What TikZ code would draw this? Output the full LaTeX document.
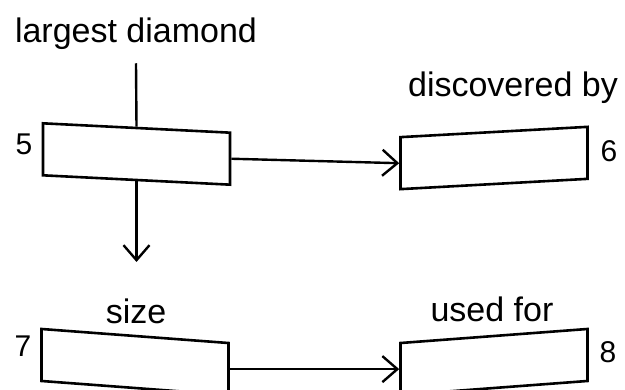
\documentclass[tikz,border=0pt]{standalone}
\usepackage{fontspec}
\setmainfont{Liberation Sans}
\usetikzlibrary{arrows.meta}
\tikzset{
  blank/.style={draw, line width=2.6pt, minimum width=187pt, minimum height=52pt, inner sep=0pt, transform shape},
  word/.style={font=\fontsize{34}{40}\selectfont, anchor=base, inner sep=0pt},
  num/.style={font=\fontsize{30}{36}\selectfont, anchor=base, inner sep=0pt},
}
\begin{document}
\begin{tikzpicture}[x=1pt,y=-1pt,line width=2.4pt,>={Straight Barb[length=15pt,width=26pt]}]
\useasboundingbox (0,0) rectangle (625,390);
\node[word] (largest) at (136,43) {largest diamond};
\node[word] (discovered) at (513,97) {discovered by};
\node[word] (size) at (136,324) {size};
\node[word] (usedfor) at (492,322) {used for};
\node[num] (n5) at (24,155) {5};
\node[num] (n6) at (609,162) {6};
\node[num] (n7) at (23,357) {7};
\node[num] (n8) at (608,363) {8};
\node[blank,yslant=-0.05] (b5) at (136.5,154) {};
\node[blank,yslant=0.055] (b6) at (494,158) {};
\node[blank,yslant=-0.075] (b7) at (135,362) {};
\node[blank,yslant=0.075] (b8) at (494,362) {};
\coordinate (drop) at (b5.south |- 0,262);
\draw ([yshift=-12pt]largest.south) -- (b5.north);
\draw[->] (b5.east) -- (b6.west);
\draw[->] (b5.south) -- (drop);
\draw[->] (b7.east) -- (b8.west);
\end{tikzpicture}
\end{document}
